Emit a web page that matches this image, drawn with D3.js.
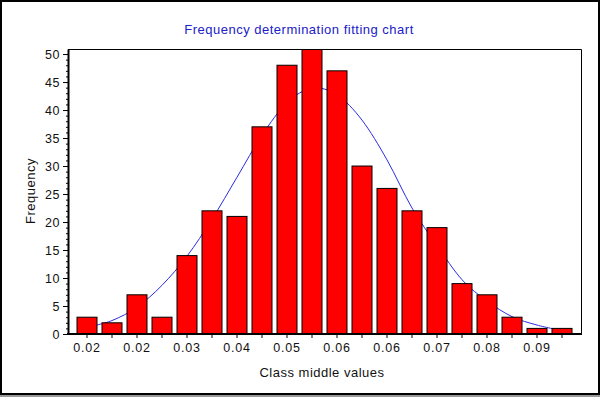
<!DOCTYPE html>
<html>
<head>
<meta charset="utf-8">
<script src="https://cdn.jsdelivr.net/npm/d3@7"></script>
<style>
  body { margin: 0; background: #fff; }
  svg { display: block; font-family: "Liberation Sans", Arial, sans-serif; }
</style>
</head>
<body>
<div class="graph"></div>
<script>
// class labels (only every other one is printed on the axis)
var classLabels = ["0.02", "", "0.02", "", "0.03", "", "0.04", "", "0.05", "",
                   "0.06", "", "0.06", "", "0.07", "", "0.08", "", "0.09", ""];
// observed frequency per class
var frequency = [3, 2, 7, 3, 14, 22, 21, 37, 48, 51, 47, 30, 26, 22, 19, 9, 7, 3, 1, 1];
// fitted curve read at each class middle
var fitted = [1.2, 2.4, 4.8, 8.7, 13.9, 20.5, 28.0, 35.5, 41.3, 43.9,
              42.7, 38.2, 31.1, 22.5, 15.8, 9.7, 5.9, 3.1, 1.6, 0.6];
var yTicks = [0, 5, 10, 15, 20, 25, 30, 35, 40, 45, 50];

var W = 600, H = 398;
var margin = { top: 49, right: 18, bottom: 64, left: 68 };
var width = W - margin.left - margin.right;
var height = H - margin.top - margin.bottom;

var svg = d3.select(".graph").append("svg")
    .attr("width", W)
    .attr("height", H);

// outer frame
svg.append("rect")
    .attr("x", 1).attr("y", 1)
    .attr("width", W - 2).attr("height", H - 5)
    .attr("fill", "#fff")
    .attr("stroke", "#000")
    .attr("stroke-width", 2);
svg.append("line")
    .attr("x1", 0).attr("x2", W)
    .attr("y1", H - 2).attr("y2", H - 2)
    .attr("stroke", "#999")
    .attr("stroke-width", 2);

var g = svg.append("g")
    .attr("transform", "translate(" + margin.left + "," + margin.top + ")");

var idx = d3.range(frequency.length);

var x = d3.scaleBand()
    .domain(idx)
    .range([6.5, 506.5])
    .paddingInner(0.2)
    .paddingOuter(0.1);

var y = d3.scaleLinear()
    .domain([0, 50.9])
    .range([height, 0]);

g.append("clipPath").attr("id", "plotclip")
    .append("rect")
    .attr("width", width).attr("height", height);

var plot = g.append("g").attr("clip-path", "url(#plotclip)");

// fitted curve first, bars sit on top of it
var line = d3.line()
    .x(function (d, i) { return x(i) + x.bandwidth() / 2; })
    .y(function (d) { return y(d); })
    .curve(d3.curveCardinal);

plot.append("path")
    .datum(fitted)
    .attr("d", line)
    .attr("fill", "none")
    .attr("stroke", "#2a2ae6")
    .attr("stroke-width", 1);

plot.selectAll("rect.bar")
    .data(frequency)
    .enter()
    .append("rect")
    .attr("class", "bar")
    .attr("x", function (d, i) { return x(i); })
    .attr("y", function (d) { return y(d); })
    .attr("width", x.bandwidth())
    .attr("height", function (d) { return height - y(d); })
    .attr("fill", "#ff0000")
    .attr("stroke", "#000")
    .attr("stroke-width", 1);

// plot box (top and right)
g.append("path")
    .attr("d", "M0,0.5H" + (width - 0.5) + "V" + height)
    .attr("fill", "none")
    .attr("stroke", "#000");

//===============axis==============
var yMinor = g.append("g")
    .call(d3.axisLeft(y).tickValues(d3.range(0, 51, 1)).tickSize(2).tickFormat(""));
yMinor.select(".domain").remove();

var yAxis = g.append("g")
    .attr("class", "y-axis")
    .call(d3.axisLeft(y).tickValues(yTicks).tickSize(5).tickSizeOuter(0).tickPadding(3));
yAxis.select(".domain").attr("stroke-width", 2);
yAxis.selectAll("text")
    .style("font-size", "12.5px")
    .style("letter-spacing", "0.6px")
    .attr("fill", "#111");

var xAxis = g.append("g")
    .attr("class", "x-axis")
    .attr("transform", "translate(0," + height + ")")
    .call(d3.axisBottom(x)
        .tickFormat(function (d) { return classLabels[d]; })
        .tickSize(4).tickSizeOuter(0).tickPadding(5));
xAxis.select(".domain")
    .attr("d", "M-1,0H" + width)
    .attr("stroke-width", 2);
xAxis.selectAll("text")
    .style("font-size", "12.5px")
    .style("letter-spacing", "0.8px")
    .attr("fill", "#111");

// titles
svg.append("text")
    .attr("x", 299).attr("y", 34)
    .attr("text-anchor", "middle")
    .attr("fill", "#2020c8")
    .style("font-size", "13px")
    .style("letter-spacing", "0.5px")
    .text("Frequency determination fitting chart");

svg.append("text")
    .attr("transform", "translate(35," + 191 + ") rotate(-90)")
    .attr("text-anchor", "middle")
    .attr("fill", "#111")
    .style("font-size", "13px")
    .style("letter-spacing", "0.5px")
    .text("Frequency");

svg.append("text")
    .attr("x", 322).attr("y", 377)
    .attr("text-anchor", "middle")
    .attr("fill", "#111")
    .style("font-size", "13px")
    .style("letter-spacing", "0.5px")
    .text("Class middle values");
</script>
</body>
</html>
